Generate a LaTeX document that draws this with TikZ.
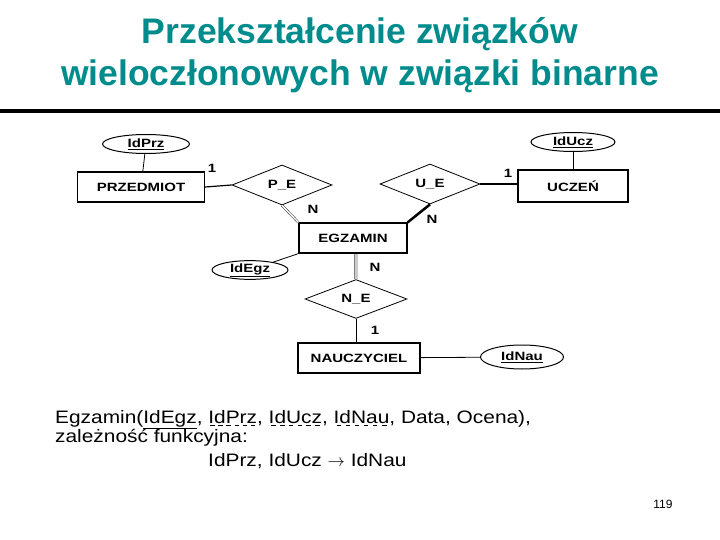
\documentclass[tikz,border=0pt]{standalone}
\usepackage{fontspec}
\setmainfont{Liberation Sans}
\newfontfamily\diagramfont[FakeStretch=1.25]{Liberation Sans}
\newfontfamily\szeroki[FakeStretch=1.16]{Liberation Sans}
\usepackage{tikz}
\usetikzlibrary{positioning}
\usetikzlibrary{shapes.geometric}
\usepackage{xcolor}
\definecolor{tytul}{RGB}{0,140,140}

% dashed underline for foreign keys
\newsavebox{\kluczbox}
\newcommand{\obcy}[1]{\sbox{\kluczbox}{#1}\rlap{\raisebox{-2.5pt}{\hbox to \wd\kluczbox{\xleaders\hbox to 8pt{\hss\rule{4.5pt}{0.9pt}\hss}\hfill}}}\usebox{\kluczbox}}

\tikzset{
    er/.style={font=\diagramfont\bfseries\fontsize{12}{14}\selectfont},
    encja/.style={er, draw, line width=1.2pt, minimum width=108pt, minimum height=30pt, inner sep=0pt},
    zwiazek/.style={er, diamond, draw, thick, inner sep=0pt, minimum width=100pt, minimum height=40pt},
    atrybut/.style={er, ellipse, draw, line width=1pt, inner sep=0pt, minimum width=84pt, minimum height=19pt},
    krotnosc/.style={er},
    tekst/.style={font=\szeroki\fontsize{18}{19}\selectfont, inner sep=0pt, anchor=base west},
}

\begin{document}
\begin{tikzpicture}[x=1pt, y=-1pt]
    \useasboundingbox (0,0) rectangle (720,540);

    % Title
    \node[tytul, anchor=base, font=\bfseries\fontsize{35.5}{42}\selectfont] (tytul1) at (360,44) {Przekształcenie związków};
    \node[tytul, anchor=base, font=\bfseries\fontsize{35.5}{42}\selectfont] (tytul2) at (360,86) {wieloczłonowych w związki binarne};
    \draw[line width=4pt] (0,111) -- (720,111);

    % Entities
    \node[encja, minimum width=127pt] (przedmiot) at (141,187) {PRZEDMIOT};
    \node[encja, minimum width=110pt, minimum height=32pt] (uczen) at (573,186) {UCZEŃ};
    \node[encja] (egzamin) at (353,238) {EGZAMIN};
    \node[encja, minimum width=122pt] (nauczyciel) at (359,358) {NAUCZYCIEL};

    % Relationships
    \node[zwiazek] (pe) at (282,185) {P\_E};
    \node[zwiazek] (ue) at (430,184) {U\_E};
    \node[zwiazek, minimum width=102pt, minimum height=32pt] (ne) at (356,299) {N\_E};

    % Attributes
    \node[atrybut, minimum width=87pt] (idprz) at (146,144) {\underline{IdPrz}};
    \node[atrybut] (iducz) at (573,142) {\underline{IdUcz}};
    \node[atrybut, minimum width=76pt, minimum height=17pt] (idegz) at (250,270) {\underline{IdEgz}};
    \node[atrybut, minimum width=83pt, minimum height=24pt] (idnau) at (522,357) {\underline{IdNau}};

    \draw[thick] (idprz) -- (przedmiot);
    \draw[thick] (iducz) -- (uczen);
    \draw[thick] (egzamin.south west) -- (idegz);
    \draw[thick] (nauczyciel) -- (idnau);

    % Connections with cardinalities
    \draw[line width=1.2pt] (przedmiot.east) -- (pe.west);
    \node[krotnosc] at (212,168) {1};
    \draw[line width=1.2pt] (ue.east) -- (uczen.west |- ue.east);
    \node[krotnosc] at (508,173) {1};
    \draw[double, double distance=1.5pt] (pe.south) -- (egzamin.north west);
    \node[krotnosc] at (313,209) {N};
    \draw[line width=2.5pt] (ue.south) -- (egzamin.north east);
    \node[krotnosc] at (432,219) {N};
    \draw[gray, double=gray!40, double distance=3pt] (egzamin.south -| ne.north) -- (ne.north);
    \node[krotnosc] at (375,267) {N};
    \draw[thick] (ne.south) -- (nauczyciel.north -| ne.south);
    \node[krotnosc] at (375,330) {1};

    % Relation schema
    \node[tekst] (schemat) at (55,423)
        {Egzamin(\underline{IdEgz}, \obcy{IdPrz}, \obcy{IdUcz}, \obcy{IdNau}, Data, Ocena),};
    \node[tekst] (zaleznosc) at (55,442) {zależność funkcyjna:};
    \node[tekst] (fd) at (208,466) {IdPrz, IdUcz $\rightarrow$ IdNau};

    \node[font=\fontsize{12}{14}\selectfont] (strona) at (663,504) {119};
\end{tikzpicture}
\end{document}
